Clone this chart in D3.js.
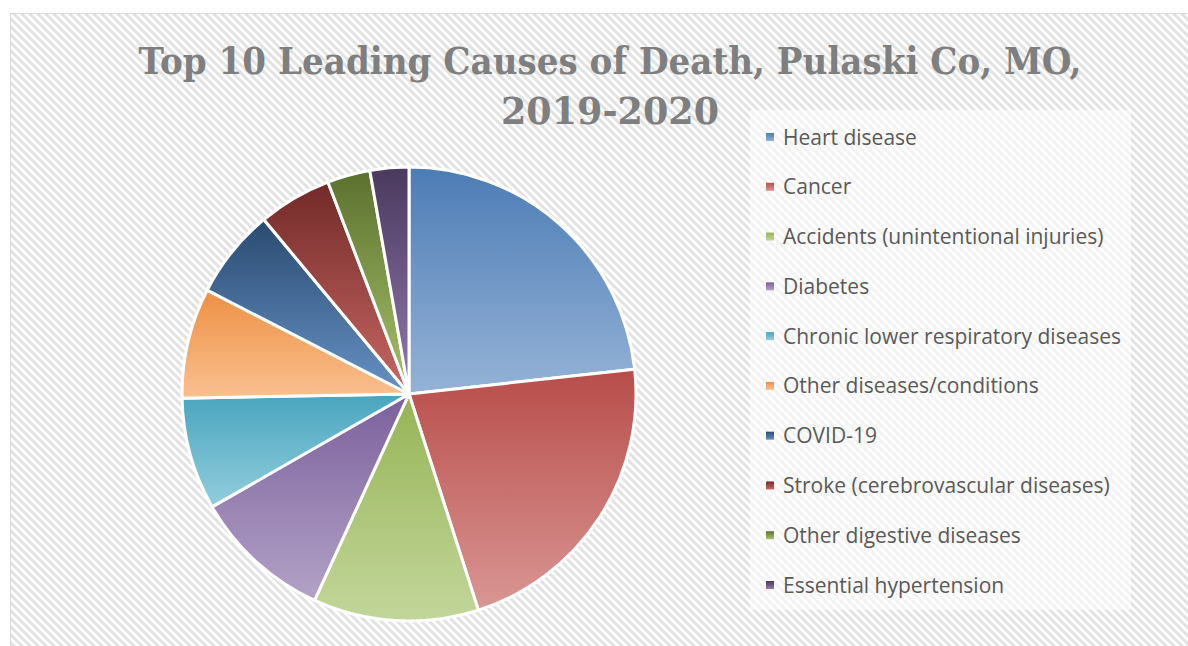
<!DOCTYPE html>
<html>
<head>
<meta charset="utf-8">
<script src="https://cdn.jsdelivr.net/npm/d3@7"></script>
<style>
  body { margin: 0; background: #fff; }
  svg { display: block; }
</style>
</head>
<body>
<svg id="chart"></svg>
<script>
var width = 1188;
var height = 646;

// data (deaths, 2019-2020)
var causes = ['Heart disease', 'Cancer', 'Accidents (unintentional injuries)', 'Diabetes',
  'Chronic lower respiratory diseases', 'Other diseases/conditions', 'COVID-19',
  'Stroke (cerebrovascular diseases)', 'Other digestive diseases', 'Essential hypertension'];
var deaths = [160, 150, 81, 68, 55, 54, 44, 36, 21, 19];
var colors = ['#4f81bd', '#c0504d', '#9bbb59', '#8064a2', '#4bacc6', '#f79646',
  '#2c4d75', '#772c2a', '#5f7530', '#4d3b62'];
var titleLines = ['Top 10 Leading Causes of Death, Pulaski Co, MO,', '2019-2020'];

var cx = 409; // pie centre
var cy = 394;
var radius = 227;
var legend_x = 766; // legend marker x
var legend_top = 137;
var legend_bottom = 585;

var svg = d3.select('#chart')
  .attr('width', width)
  .attr('height', height);

var defs = svg.append('defs');

// hatched chart background
var hatch = defs.append('pattern')
  .attr('id', 'hatch')
  .attr('patternUnits', 'userSpaceOnUse')
  .attr('width', 8)
  .attr('height', 8);
hatch.append('rect').attr('width', 8).attr('height', 8).attr('fill', '#ffffff');
hatch.append('path')
  .attr('d', 'M-2,-2L10,10M-2,6L2,10M6,-2L10,2')
  .attr('stroke', '#e2e2e2')
  .attr('stroke-width', 3);

// one gradient per slice: base colour on top, lighter tint at the bottom
colors.forEach(function(c, i){
  var light = d3.hsl(c);
  light.l = light.l + (1 - light.l) * 0.4;
  var g = defs.append('linearGradient')
    .attr('id', 'grad' + i)
    .attr('x1', 0).attr('y1', 0)
    .attr('x2', 0).attr('y2', 1);
  g.append('stop').attr('offset', '0%').attr('stop-color', d3.interpolateRgb(c, '#000')(0.04));
  g.append('stop').attr('offset', '100%').attr('stop-color', light.formatHex());
});

svg.append('rect')
  .attr('x', 10.5)
  .attr('y', 13.5)
  .attr('width', width)
  .attr('height', height)
  .attr('fill', 'url(#hatch)')
  .attr('stroke', '#d9d9d9')
  .attr('stroke-width', 1);

// title
svg.selectAll('text.title')
  .data(titleLines)
  .enter()
  .append('text')
  .attr('class', 'title')
  .attr('x', 610)
  .attr('y', function(d, i){ return 74 + i * 50; })
  .attr('text-anchor', 'middle')
  .attr('font-family', '"DejaVu Serif", "Liberation Serif", serif')
  .attr('font-weight', 'bold')
  .attr('font-size', 38)
  .attr('fill', '#7f7f7f')
  .attr('textLength', function(d, i){ return i === 0 ? 943 : 218; })
  .attr('lengthAdjust', 'spacingAndGlyphs')
  .text(function(d){ return d; });

// pie
var pie = d3.pie().sort(null).value(function(d){ return d; });
var arc = d3.arc().innerRadius(0).outerRadius(radius);

svg.append('g')
  .attr('transform', 'translate(' + cx + ',' + cy + ')')
  .selectAll('path')
  .data(pie(deaths))
  .enter()
  .append('path')
  .attr('d', arc)
  .attr('fill', function(d, i){ return 'url(#grad' + i + ')'; })
  .attr('stroke', '#ffffff')
  .attr('stroke-width', 3)
  .attr('stroke-linejoin', 'round');

// legend
svg.append('rect')
  .attr('x', 750)
  .attr('y', 110)
  .attr('width', 381)
  .attr('height', 500)
  .attr('fill', '#ffffff')
  .attr('fill-opacity', 0.6);

var ly = d3.scalePoint().domain(causes).range([legend_top, legend_bottom]);

var items = svg.selectAll('g.legend')
  .data(causes)
  .enter()
  .append('g')
  .attr('class', 'legend')
  .attr('transform', function(d){ return 'translate(' + legend_x + ',' + ly(d) + ')'; });

items.append('rect')
  .attr('x', 0)
  .attr('y', -4)
  .attr('width', 8)
  .attr('height', 8)
  .attr('fill', function(d, i){ return 'url(#grad' + i + ')'; });

items.append('text')
  .attr('x', 17)
  .attr('y', 7.5)
  .attr('font-family', '"Open Sans", "Liberation Sans", sans-serif')
  .attr('font-size', 21)
  .attr('fill', '#595959')
  .text(function(d){ return d; });
</script>
</body>
</html>
